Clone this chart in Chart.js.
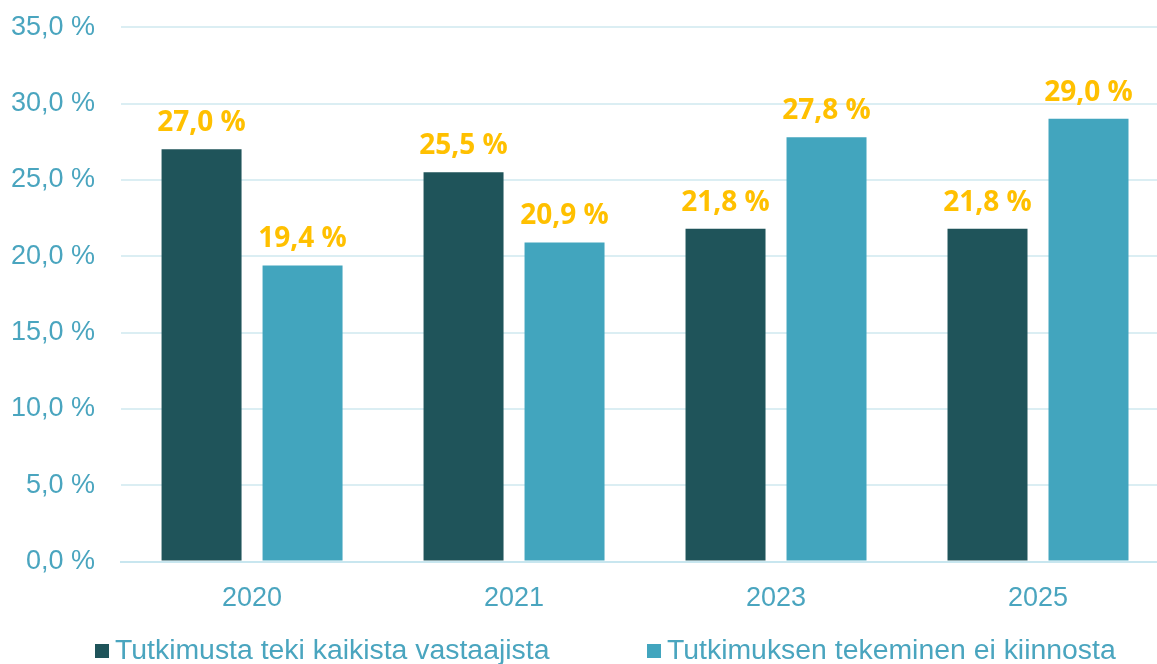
<!DOCTYPE html>
<html>
<head>
<meta charset="utf-8">
<script src="https://cdn.jsdelivr.net/npm/chart.js@4"></script>
<style>
  html, body { margin: 0; padding: 0; background: #fff; overflow: hidden; }
  #wrap { position: relative; width: 1157px; height: 664px; overflow: hidden; }
  #chart { position: absolute; left: -23px; top: -15px; }
  #legend { position: absolute; left: 0; top: 632px; width: 1157px; font-family: "Liberation Sans", Arial, sans-serif; font-size: 28.4px; color: #4aa5bf; white-space: nowrap; }
  .item { position: absolute; top: 0; line-height: 34px; }
  .box { display: inline-block; width: 14px; height: 14px; margin-right: 6px; vertical-align: 1px; }
</style>
</head>
<body>
<div id="wrap">
  <canvas id="chart" width="1193" height="679"></canvas>
  <div id="legend"></div>
</div>
<script>
  const years = ['2020', '2021', '2023', '2025'];
  const seriesNames = ['Tutkimusta teki kaikista vastaajista', 'Tutkimuksen tekeminen ei kiinnosta'];
  const didResearch = [27.0, 25.5, 21.8, 21.8];
  const notInterested = [19.4, 20.9, 27.8, 29.0];
  const yTicks = [0, 5, 10, 15, 20, 25, 30, 35];

  const colors = ['#1f545a', '#42a5be'];
  const tickColor = '#4aa5bf';

  function pct(v) {
    return v.toFixed(1).replace('.', ',') + ' %';
  }

  const valueLabels = {
    id: 'valueLabels',
    afterDatasetsDraw(chart) {
      const ctx = chart.ctx;
      ctx.save();
      ctx.font = 'bold 28px "Open Sans", sans-serif';
      ctx.fillStyle = '#ffc000';
      ctx.textAlign = 'center';
      ctx.textBaseline = 'alphabetic';
      chart.data.datasets.forEach((ds, i) => {
        chart.getDatasetMeta(i).data.forEach((bar, j) => {
          ctx.fillText(pct(ds.data[j]), bar.x, bar.y - 18);
        });
      });
      ctx.restore();
    }
  };

  new Chart(document.getElementById('chart'), {
    type: 'bar',
    data: {
      labels: years,
      datasets: [
        { label: seriesNames[0], data: didResearch, backgroundColor: colors[0] },
        { label: seriesNames[1], data: notInterested, backgroundColor: colors[1] }
      ]
    },
    options: {
      responsive: false,
      animation: false,
      layout: { padding: { top: 14, left: 8, right: 1, bottom: 36 } },
      datasets: { bar: { categoryPercentage: 0.771, barPercentage: 0.792 } },
      plugins: { legend: { display: false }, tooltip: { enabled: false } },
      scales: {
        x: {
          grid: { display: false },
          border: { color: '#c8e6ef', width: 2 },
          ticks: { color: tickColor, padding: 13, font: { family: '"Liberation Sans", Arial, sans-serif', size: 27 } }
        },
        y: {
          min: 0,
          max: 35,
          afterBuildTicks(axis) { axis.ticks = yTicks.map(v => ({ value: v })); },
          grid: { color: '#dbeef3', lineWidth: 2, drawTicks: false },
          border: { display: false },
          ticks: {
            color: tickColor,
            padding: 26,
            font: { family: '"Liberation Sans", Arial, sans-serif', size: 27 },
            callback: v => pct(v)
          }
        }
      }
    },
    plugins: [valueLabels]
  });

  const legend = document.getElementById('legend');
  const legendLeft = [95, 647];
  seriesNames.forEach((name, i) => {
    const item = document.createElement('span');
    item.className = 'item';
    item.style.left = legendLeft[i] + 'px';
    item.innerHTML = '<span class="box" style="background:' + colors[i] + '"></span>' + name;
    legend.appendChild(item);
  });
</script>
</body>
</html>
